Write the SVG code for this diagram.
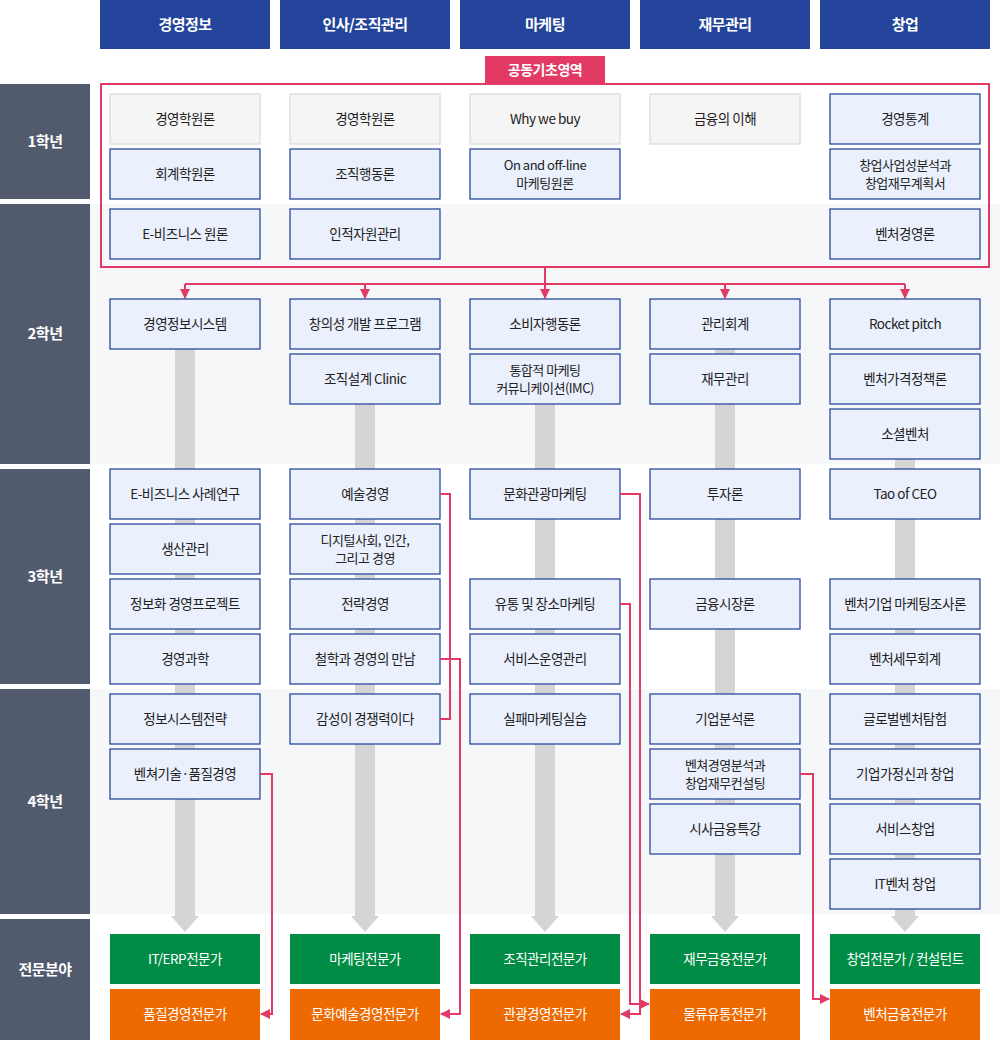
<svg xmlns="http://www.w3.org/2000/svg" width="1000" height="1040" viewBox="0 0 1000 1040">
<style>
text{font-family:"Noto Sans CJK KR","Noto Sans",sans-serif;font-size:13.5px;text-anchor:middle;fill:#222;letter-spacing:-0.5px}
.hd rect{fill:#23449a}.hd text{fill:#fff;font-weight:bold;font-size:15px}
.yr rect{fill:#525b6e}.yr text{fill:#fff;font-weight:bold;font-size:15px}
.n rect{fill:#eaf0fc;stroke:#2a4a9e;stroke-width:1.3}
.g rect{fill:#f5f5f5;stroke:#dcdcdc;stroke-width:1.3}
.gr rect{fill:#008c45}.gr text{fill:#fff}
.or rect{fill:#ee6a00}.or text{fill:#fff}
.red{fill:none;stroke:#e23a64;stroke-width:2}
.bar{fill:#d5d5d5}
.t2{font-size:13px}
</style>
<defs><marker id="ar" viewBox="0 0 10 10" refX="9" refY="5" markerWidth="5" markerHeight="5" orient="auto"><path d="M0,0L10,5L0,10z" fill="#e23a64"/></marker></defs>
<rect x="90" y="204" width="910" height="260" fill="#f6f7f9"/>
<rect x="90" y="689" width="910" height="225" fill="#f6f7f9"/>
<g id="headers" class="hd">
<rect x="100" y="0" width="170" height="49"/><text x="185" y="30">경영정보</text>
<rect x="280" y="0" width="170" height="49"/><text x="365" y="30">인사/조직관리</text>
<rect x="460" y="0" width="170" height="49"/><text x="545" y="30">마케팅</text>
<rect x="640" y="0" width="170" height="49"/><text x="725" y="30">재무관리</text>
<rect x="820" y="0" width="170" height="49"/><text x="905" y="30">창업</text>
</g>
<g id="years" class="yr">
<rect x="0" y="84" width="90" height="115"/><text x="45" y="147">1학년</text>
<rect x="0" y="204" width="90" height="260"/><text x="45" y="339">2학년</text>
<rect x="0" y="469" width="90" height="215"/><text x="45" y="582">3학년</text>
<rect x="0" y="689" width="90" height="225"/><text x="45" y="807">4학년</text>
<rect x="0" y="919" width="90" height="121"/><text x="45" y="975">전문분야</text>
</g>
<g id="bars">
<rect class="bar" x="175" y="349" width="20" height="568"/><path class="bar" d="M171,916H199L185,932z"/>
<rect class="bar" x="355" y="404" width="20" height="513"/><path class="bar" d="M351,916H379L365,932z"/>
<rect class="bar" x="535" y="404" width="20" height="513"/><path class="bar" d="M531,916H559L545,932z"/>
<rect class="bar" x="715" y="349" width="20" height="568"/><path class="bar" d="M711,916H739L725,932z"/>
<rect class="bar" x="895" y="459" width="20" height="458"/><path class="bar" d="M891,916H919L905,932z"/>
</g>
<rect x="101" y="84" width="888" height="183" fill="none" stroke="#e23a64" stroke-width="2"/>
<g id="common"><rect x="485" y="56" width="120" height="27" fill="#e23a64"/><text x="545" y="75" style="fill:#fff;font-weight:bold;font-size:14px">공동기초영역</text></g>
<g id="y1">
<g class="g"><rect x="110" y="94" width="150" height="50"/><text x="185" y="124">경영학원론</text></g>
<g class="g"><rect x="290" y="94" width="150" height="50"/><text x="365" y="124">경영학원론</text></g>
<g class="g"><rect x="470" y="94" width="150" height="50"/><text x="545" y="124">Why we buy</text></g>
<g class="g"><rect x="650" y="94" width="150" height="50"/><text x="725" y="124">금융의 이해</text></g>
<g class="n"><rect x="830" y="94" width="150" height="50"/><text x="905" y="124">경영통계</text></g>
<g class="n"><rect x="110" y="149" width="150" height="50"/><text x="185" y="179">회계학원론</text></g>
<g class="n"><rect x="290" y="149" width="150" height="50"/><text x="365" y="179">조직행동론</text></g>
<g class="n"><rect x="470" y="149" width="150" height="50"/><text class="t2" x="545" y="170">On and off-line</text><text class="t2" x="545" y="188">마케팅원론</text></g>
<g class="n"><rect x="830" y="149" width="150" height="50"/><text class="t2" x="905" y="170">창업사업성분석과</text><text class="t2" x="905" y="188">창업재무계획서</text></g>
<g class="n"><rect x="110" y="209" width="150" height="50"/><text x="185" y="239">E-비즈니스 원론</text></g>
<g class="n"><rect x="290" y="209" width="150" height="50"/><text x="365" y="239">인적자원관리</text></g>
<g class="n"><rect x="830" y="209" width="150" height="50"/><text x="905" y="239">벤처경영론</text></g>
</g>
<g id="y2">
<g class="n"><rect x="110" y="299" width="150" height="50"/><text x="185" y="329">경영정보시스템</text></g>
<g class="n"><rect x="290" y="299" width="150" height="50"/><text x="365" y="329">창의성 개발 프로그램</text></g>
<g class="n"><rect x="470" y="299" width="150" height="50"/><text x="545" y="329">소비자행동론</text></g>
<g class="n"><rect x="650" y="299" width="150" height="50"/><text x="725" y="329">관리회계</text></g>
<g class="n"><rect x="830" y="299" width="150" height="50"/><text x="905" y="329">Rocket pitch</text></g>
<g class="n"><rect x="290" y="354" width="150" height="50"/><text x="365" y="384">조직설계 Clinic</text></g>
<g class="n"><rect x="470" y="354" width="150" height="50"/><text class="t2" x="545" y="375">통합적 마케팅</text><text class="t2" x="545" y="393">커뮤니케이션(IMC)</text></g>
<g class="n"><rect x="650" y="354" width="150" height="50"/><text x="725" y="384">재무관리</text></g>
<g class="n"><rect x="830" y="354" width="150" height="50"/><text x="905" y="384">벤처가격정책론</text></g>
<g class="n"><rect x="830" y="409" width="150" height="50"/><text x="905" y="439">소셜벤처</text></g>
</g>
<g id="y3">
<g class="n"><rect x="110" y="469" width="150" height="50"/><text x="185" y="499">E-비즈니스 사례연구</text></g>
<g class="n"><rect x="290" y="469" width="150" height="50"/><text x="365" y="499">예술경영</text></g>
<g class="n"><rect x="470" y="469" width="150" height="50"/><text x="545" y="499">문화관광마케팅</text></g>
<g class="n"><rect x="650" y="469" width="150" height="50"/><text x="725" y="499">투자론</text></g>
<g class="n"><rect x="830" y="469" width="150" height="50"/><text x="905" y="499">Tao of CEO</text></g>
<g class="n"><rect x="110" y="524" width="150" height="50"/><text x="185" y="554">생산관리</text></g>
<g class="n"><rect x="290" y="524" width="150" height="50"/><text class="t2" x="365" y="545">디지털사회, 인간,</text><text class="t2" x="365" y="563">그리고 경영</text></g>
<g class="n"><rect x="110" y="579" width="150" height="50"/><text x="185" y="609">정보화 경영프로젝트</text></g>
<g class="n"><rect x="290" y="579" width="150" height="50"/><text x="365" y="609">전략경영</text></g>
<g class="n"><rect x="470" y="579" width="150" height="50"/><text x="545" y="609">유통 및 장소마케팅</text></g>
<g class="n"><rect x="650" y="579" width="150" height="50"/><text x="725" y="609">금융시장론</text></g>
<g class="n"><rect x="830" y="579" width="150" height="50"/><text x="905" y="609">벤처기업 마케팅조사론</text></g>
<g class="n"><rect x="110" y="634" width="150" height="50"/><text x="185" y="664">경영과학</text></g>
<g class="n"><rect x="290" y="634" width="150" height="50"/><text x="365" y="664">철학과 경영의 만남</text></g>
<g class="n"><rect x="470" y="634" width="150" height="50"/><text x="545" y="664">서비스운영관리</text></g>
<g class="n"><rect x="830" y="634" width="150" height="50"/><text x="905" y="664">벤처세무회계</text></g>
</g>
<g id="y4">
<g class="n"><rect x="110" y="694" width="150" height="50"/><text x="185" y="724">정보시스템전략</text></g>
<g class="n"><rect x="290" y="694" width="150" height="50"/><text x="365" y="724">감성이 경쟁력이다</text></g>
<g class="n"><rect x="470" y="694" width="150" height="50"/><text x="545" y="724">실패마케팅실습</text></g>
<g class="n"><rect x="650" y="694" width="150" height="50"/><text x="725" y="724">기업분석론</text></g>
<g class="n"><rect x="830" y="694" width="150" height="50"/><text x="905" y="724">글로벌벤처탐험</text></g>
<g class="n"><rect x="110" y="749" width="150" height="50"/><text x="185" y="779">벤쳐기술·품질경영</text></g>
<g class="n"><rect x="650" y="749" width="150" height="50"/><text class="t2" x="725" y="770">벤쳐경영분석과</text><text class="t2" x="725" y="788">창업재무컨설팅</text></g>
<g class="n"><rect x="830" y="749" width="150" height="50"/><text x="905" y="779">기업가정신과 창업</text></g>
<g class="n"><rect x="650" y="804" width="150" height="50"/><text x="725" y="834">시사금융특강</text></g>
<g class="n"><rect x="830" y="804" width="150" height="50"/><text x="905" y="834">서비스창업</text></g>
<g class="n"><rect x="830" y="859" width="150" height="50"/><text x="905" y="889">IT벤처 창업</text></g>
</g>
<g id="experts">
<g class="gr"><rect x="110" y="934" width="150" height="50"/><text x="185" y="964">IT/ERP전문가</text></g>
<g class="gr"><rect x="290" y="934" width="150" height="50"/><text x="365" y="964">마케팅전문가</text></g>
<g class="gr"><rect x="470" y="934" width="150" height="50"/><text x="545" y="964">조직관리전문가</text></g>
<g class="gr"><rect x="650" y="934" width="150" height="50"/><text x="725" y="964">재무금융전문가</text></g>
<g class="gr"><rect x="830" y="934" width="150" height="50"/><text x="905" y="964">창업전문가 / 컨설턴트</text></g>
<g class="or"><rect x="110" y="989" width="150" height="51"/><text x="185" y="1019">품질경영전문가</text></g>
<g class="or"><rect x="290" y="989" width="150" height="51"/><text x="365" y="1019">문화예술경영전문가</text></g>
<g class="or"><rect x="470" y="989" width="150" height="51"/><text x="545" y="1019">관광경영전문가</text></g>
<g class="or"><rect x="650" y="989" width="150" height="51"/><text x="725" y="1019">물류유통전문가</text></g>
<g class="or"><rect x="830" y="989" width="150" height="51"/><text x="905" y="1019">벤처금융전문가</text></g>
</g>
<g id="connectors">
<path class="red" d="M545,267V284M185,284H905"/>
<path class="red" marker-end="url(#ar)" d="M185,284V298"/>
<path class="red" marker-end="url(#ar)" d="M365,284V298"/>
<path class="red" marker-end="url(#ar)" d="M545,284V298"/>
<path class="red" marker-end="url(#ar)" d="M725,284V298"/>
<path class="red" marker-end="url(#ar)" d="M905,284V298"/>
<path class="red" d="M440,494H450V719H440"/>
<path class="red" marker-end="url(#ar)" d="M440,659H460V1014H441"/>
<path class="red" marker-end="url(#ar)" d="M260,774H272V1014H261"/>
<path class="red" marker-end="url(#ar)" d="M620,494H640V1014H621"/>
<path class="red" marker-end="url(#ar)" d="M620,604H630V1004H649"/>
<path class="red" marker-end="url(#ar)" d="M800,774H813V999H829"/>
</g>
</svg>
